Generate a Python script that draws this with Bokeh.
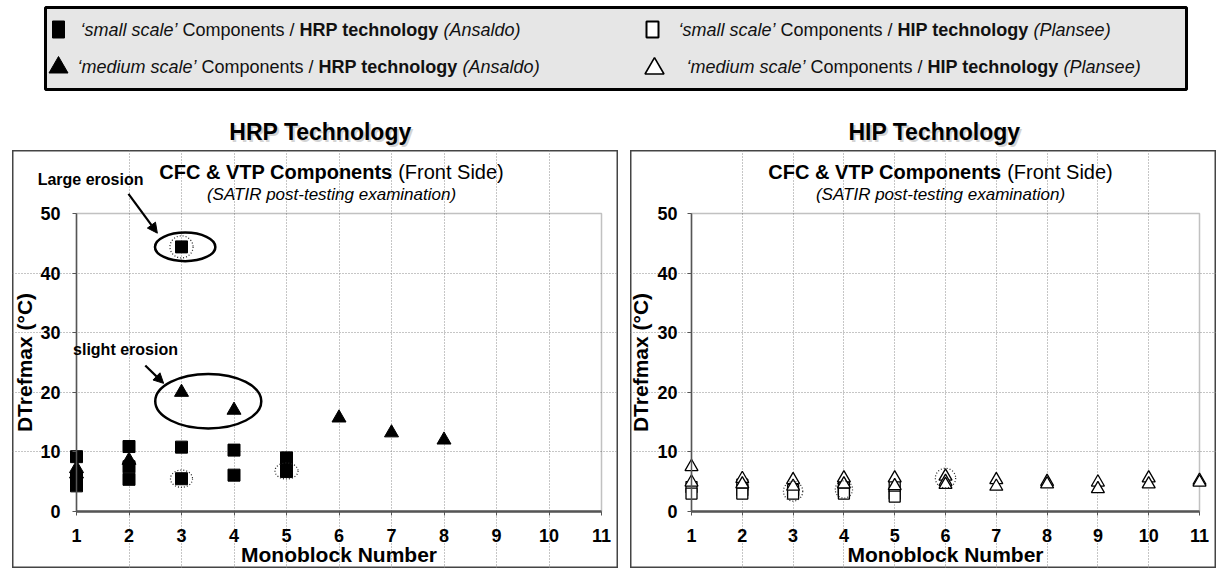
from bokeh.plotting import figure
from bokeh.models import Range1d, FixedTicker, Label, Arrow, NormalHead, Spacer, BoxAnnotation
from bokeh.layouts import column, row
from bokeh.embed import file_html
from bokeh.resources import INLINE
from bokeh.core.properties import value

FONT = "Liberation Sans"

# ---------------- data ----------------
x_ticks = [1, 2, 3, 4, 5, 6, 7, 8, 9, 10, 11]
y_ticks = [0, 10, 20, 30, 40, 50]

hrp_small_x = [1, 1, 1, 2, 2, 2, 3, 3, 3, 4, 4, 5, 5, 5, 5]
hrp_small_y = [9.2, 5.6, 4.3, 10.9, 7.5, 5.4, 44.4, 10.8, 5.5, 10.3, 6.1, 9.0, 8.0, 7.3, 6.7]
hrp_medium_x = [1, 1, 2, 3, 4, 6, 7, 8]
hrp_medium_y = [7.2, 6.3, 8.6, 20.0, 17.0, 15.7, 13.2, 12.0]

hip_small_x = [1, 1, 2, 2, 2, 3, 3, 4, 4, 4, 5, 5, 5]
hip_small_y = [4.1, 3.0, 4.5, 3.6, 3.0, 3.6, 3.0, 4.0, 3.4, 3.0, 4.2, 3.0, 2.5]
hip_medium_x = [1, 1, 2, 2, 3, 3, 4, 4, 5, 5, 6, 6, 6, 7, 7, 8, 8, 9, 9, 10, 10, 11, 11]
hip_medium_y = [7.5, 4.9, 5.5, 4.6, 5.3, 4.2, 5.6, 4.6, 5.6, 4.3, 5.9, 5.0, 4.5,
                5.3, 4.2, 5.0, 4.6, 4.9, 3.8, 5.6, 4.6, 5.2, 4.9]

# annotations (ellipses / dotted rings / arrows)
hrp_ring_x = [3.07, 3.51]
hrp_ring_y = [44.4, 18.5]
hrp_ring_w = [1.15, 2.02]
hrp_ring_h = [4.8, 9.15]
hrp_dot_x = [3, 3, 5]
hrp_dot_y = [44.4, 5.5, 6.8]
hrp_dot_w = [0.44, 0.42, 0.44]
hrp_dot_h = [3.7, 2.9, 2.7]
hip_dot_x = [3, 4, 6]
hip_dot_y = [3.4, 3.7, 5.6]
hip_dot_w = [0.38, 0.34, 0.40]
hip_dot_h = [3.3, 2.9, 3.3]
arrow_x0 = [1.99, 2.31]
arrow_y0 = [53.3, 24.5]
arrow_x1 = [2.54, 2.66]
arrow_y1 = [46.7, 21.5]

legend_rows = [
    [("\u2018small scale\u2019", "italic"), (" Components / ", "normal"), ("HRP technology", "bold"), (" ", "normal"), ("(Ansaldo)", "italic")],
    [("\u2018medium scale\u2019", "italic"), (" Components / ", "normal"), ("HRP technology", "bold"), (" ", "normal"), ("(Ansaldo)", "italic")],
    [("\u2018small scale\u2019", "italic"), (" Components / ", "normal"), ("HIP technology", "bold"), (" ", "normal"), ("(Plansee)", "italic")],
    [("\u2018medium scale\u2019", "italic"), (" Components / ", "normal"), ("HIP technology", "bold"), (" ", "normal"), ("(Plansee)", "italic")],
]

# ---------------- text metrics (Arial / Liberation Sans) ----------------
REG = {' ': 278, '\u2018': 222, '\u2019': 222, '(': 333, ')': 333, '/': 278, '-': 333, '&': 667,
       'a': 556, 'b': 556, 'c': 500, 'd': 556, 'e': 556, 'f': 278, 'g': 556, 'h': 556, 'i': 222, 'j': 222,
       'k': 500, 'l': 222, 'm': 833, 'n': 556, 'o': 556, 'p': 556, 'q': 556, 'r': 333, 's': 500, 't': 278,
       'u': 556, 'v': 500, 'w': 722, 'x': 500, 'y': 500, 'z': 500,
       'A': 667, 'B': 667, 'C': 722, 'D': 722, 'E': 667, 'F': 611, 'G': 778, 'H': 722, 'I': 278, 'J': 500,
       'K': 667, 'L': 556, 'M': 833, 'N': 722, 'O': 778, 'P': 667, 'Q': 778, 'R': 722, 'S': 667, 'T': 611,
       'U': 722, 'V': 667, 'W': 944, 'X': 667, 'Y': 667, 'Z': 611}
BOLD = {' ': 278, '\u2018': 278, '\u2019': 278, '(': 333, ')': 333, '/': 278, '-': 333, '&': 722,
        'a': 556, 'b': 611, 'c': 556, 'd': 611, 'e': 556, 'f': 333, 'g': 611, 'h': 611, 'i': 278, 'j': 278,
        'k': 556, 'l': 278, 'm': 889, 'n': 611, 'o': 611, 'p': 611, 'q': 611, 'r': 389, 's': 556, 't': 333,
        'u': 611, 'v': 556, 'w': 778, 'x': 556, 'y': 556, 'z': 500,
        'A': 722, 'B': 722, 'C': 722, 'D': 722, 'E': 667, 'F': 611, 'G': 778, 'H': 722, 'I': 278, 'J': 556,
        'K': 722, 'L': 611, 'M': 833, 'N': 722, 'O': 778, 'P': 667, 'Q': 778, 'R': 722, 'S': 667, 'T': 611,
        'U': 722, 'V': 667, 'W': 944, 'X': 667, 'Y': 667, 'Z': 611}


def tw(s, style, size):
    tbl = BOLD if style == "bold" else REG
    return sum(tbl.get(c, 556) for c in s) * size / 1000.0


# ---------------- top (legend + headings) ----------------
TOP_H = 150
top = figure(width=1221, height=TOP_H, x_range=Range1d(0, 1221), y_range=Range1d(TOP_H, 0),
             output_backend="svg", toolbar_location=None, min_border=0)
top.axis.visible = False
top.grid.visible = False
top.outline_line_color = None

top.quad(left=[45], right=[1186], top=[7], bottom=[89], fill_color="#e6e6e6",
         line_color="black", line_width=3)

# legend symbols
top.rect(x=[58], y=[29], width=[12], height=[17], fill_color="black", line_color="black")
top.scatter(x=[58], y=[67], size=19, marker="triangle", fill_color="black", line_color="black")
top.rect(x=[652], y=[29], width=[12], height=[16], fill_color="white", line_color="black", line_width=2)
top.scatter(x=[654], y=[68], size=19, marker="triangle", fill_color="white", line_color="black", line_width=1.6)

LEG_SIZE = 18
legend_pos = [(80, 29), (77, 66), (678, 29), (686, 66)]
for (x0, y0), segs in zip(legend_pos, legend_rows):
    xx = x0
    for txt, style in segs:
        core = txt.strip()
        lead = txt[:len(txt) - len(txt.lstrip())]
        if core:
            top.text(x=[xx + tw(lead, style, LEG_SIZE)], y=[y0], text=[core], text_font=value(FONT),
                     text_font_size=f"{LEG_SIZE}px", text_font_style=style, text_baseline="middle",
                     text_align="left", text_color="#111111")
        xx += tw(txt, style, LEG_SIZE)

for hx, htxt in [(320, "HRP Technology"), (934, "HIP Technology")]:
    top.text(x=[hx + 2], y=[133], text=[htxt], text_font=value(FONT), text_font_size="23px",
             text_font_style="bold", text_baseline="middle", text_align="center", text_color="#d4d4d4")
    top.text(x=[hx], y=[131], text=[htxt], text_font=value(FONT), text_font_size="23px",
             text_font_style="bold", text_baseline="middle", text_align="center", text_color="black")

# ---------------- panels ----------------
PANEL_TOP = 150
PANEL_H = 418
Y0_REF, Y50_REF = 511, 213


def make_panel(left_ref, width, ax1_ref, ax11_ref, title_cx, ytick_standoff, ylabel_standoff):
    ppx = (ax11_ref - ax1_ref) / (x_ticks[-1] - x_ticks[0])
    ppy = (Y0_REF - Y50_REF) / (y_ticks[-1] - y_ticks[0])
    xs = x_ticks[0] - (ax1_ref - left_ref) / ppx
    xe = xs + width / ppx
    ye = y_ticks[-1] + (Y50_REF - PANEL_TOP) / ppy
    ys = ye - PANEL_H / ppy

    def fx(rx):
        return xs + (rx - left_ref) / ppx

    def fy(ry):
        return ye - (ry - PANEL_TOP) / ppy

    p = figure(width=width, height=PANEL_H, x_range=Range1d(xs, xe), y_range=Range1d(ys, ye),
               output_backend="svg", toolbar_location=None, min_border=0)
    p.outline_line_color = "#444444"
    p.outline_line_width = 2
    p.background_fill_color = "white"
    p.border_fill_color = "white"

    p.xaxis.fixed_location = y_ticks[0]
    p.yaxis.fixed_location = x_ticks[0]
    p.xaxis.bounds = (x_ticks[0], x_ticks[-1])
    p.yaxis.bounds = (y_ticks[0], y_ticks[-1])
    p.xaxis.ticker = FixedTicker(ticks=x_ticks)
    p.yaxis.ticker = FixedTicker(ticks=y_ticks)
    p.xgrid.ticker = FixedTicker(ticks=x_ticks[1:-1])
    p.ygrid.ticker = FixedTicker(ticks=y_ticks[1:-1])
    p.xgrid.bounds = (y_ticks[0], y_ticks[-1])
    p.ygrid.bounds = (x_ticks[0], x_ticks[-1])
    p.grid.grid_line_color = "#8c8c8c"
    p.grid.grid_line_dash = "1 2"
    p.grid.grid_line_width = 1

    p.add_layout(BoxAnnotation(left=x_ticks[0], right=x_ticks[-1], bottom=y_ticks[0], top=y_ticks[-1],
                               fill_alpha=0, line_color="#333333", line_width=1.5, level="underlay"))

    for ax in (p.xaxis, p.yaxis):
        ax.major_label_text_font = FONT
        ax.major_label_text_font_style = "bold"
        ax.major_label_text_font_size = "18px"
        ax.major_label_text_color = "black"
        ax.axis_label_text_font = FONT
        ax.axis_label_text_font_style = "bold"
        ax.axis_label_text_font_size = "21px"
        ax.axis_label_text_color = "black"
        ax.major_tick_out = 4
        ax.major_tick_in = 0
        ax.minor_tick_out = 0
        ax.minor_tick_in = 0
        ax.axis_line_color = "#555555"
        ax.major_tick_line_color = "#555555"
    p.xaxis.axis_line_width = 2.5
    p.yaxis.axis_line_width = 1.5
    p.xaxis.axis_label = "Monoblock Number"
    p.yaxis.axis_label = "DTrefmax (\u00b0C)"
    p.xaxis.major_label_standoff = 13
    p.xaxis.axis_label_standoff = -2
    p.yaxis.major_label_standoff = ytick_standoff
    p.yaxis.axis_label_standoff = ylabel_standoff

    # titles inside the panel (mixed weight)
    t1, t2 = "CFC & VTP Components", "(Front Side)"
    w1, wsp, w2 = tw(t1, "bold", 20), tw(" ", "normal", 20), tw(t2, "normal", 20)
    lx = title_cx - (w1 + wsp + w2) / 2
    p.add_layout(Label(x=fx(lx), y=fy(171), text=t1, text_font=FONT, text_font_style="bold",
                       text_font_size="20px", text_baseline="middle", text_align="left", text_color="black"))
    p.add_layout(Label(x=fx(lx + w1 + wsp), y=fy(171), text=t2, text_font=FONT, text_font_style="normal",
                       text_font_size="20px", text_baseline="middle", text_align="left", text_color="black"))
    p.add_layout(Label(x=fx(title_cx), y=fy(194), text="(SATIR post-testing examination)", text_font=FONT,
                       text_font_style="italic", text_font_size="17px", text_baseline="middle",
                       text_align="center", text_color="black"))
    return p, fx, fy


# left panel: HRP
left, lfx, lfy = make_panel(12, 606, 76, 601, 331, 12, 1)
left.ellipse(x=hrp_ring_x, y=hrp_ring_y, width=hrp_ring_w, height=hrp_ring_h,
             fill_color=None, line_color="black", line_width=2.5)
left.scatter(x=hrp_small_x, y=hrp_small_y, marker="square", size=12, fill_color="black", line_color="black")
left.scatter(x=hrp_medium_x, y=hrp_medium_y, marker="triangle", size=14, fill_color="black", line_color="black")
left.ellipse(x=hrp_dot_x, y=hrp_dot_y, width=hrp_dot_w, height=hrp_dot_h,
             fill_color=None, line_color="#222222", line_width=1.2, line_dash="1 2")
for xa, ya, xb, yb in zip(arrow_x0, arrow_y0, arrow_x1, arrow_y1):
    left.add_layout(Arrow(end=NormalHead(size=10, fill_color="black", line_color="black"),
                          x_start=xa, y_start=ya, x_end=xb, y_end=yb, line_width=2.2, line_color="black"))
left.add_layout(Label(x=lfx(143), y=lfy(179), text="Large erosion", text_font=FONT, text_font_style="bold",
                      text_font_size="16px", text_baseline="middle", text_align="right", text_color="black"))
left.add_layout(Label(x=lfx(125), y=lfy(349), text="slight erosion", text_font=FONT, text_font_style="bold",
                      text_font_size="16px", text_baseline="middle", text_align="center", text_color="black"))

# right panel: HIP
right, rfx, rfy = make_panel(630, 586, 691, 1199, 940, 10, 2)
right.scatter(x=hip_small_x, y=hip_small_y, marker="square", size=11, fill_color="white",
              line_color="black", line_width=1.3)
right.scatter(x=hip_medium_x, y=hip_medium_y, marker="triangle", size=13, fill_color="white",
              line_color="black", line_width=1.3)
right.ellipse(x=hip_dot_x, y=hip_dot_y, width=hip_dot_w, height=hip_dot_h,
              fill_color=None, line_color="#222222", line_width=1.2, line_dash="1 2")

layout = column(top, row(Spacer(width=12), left, Spacer(width=12), right, spacing=0), spacing=0)

open("out.html", "w").write(file_html(layout, INLINE))
